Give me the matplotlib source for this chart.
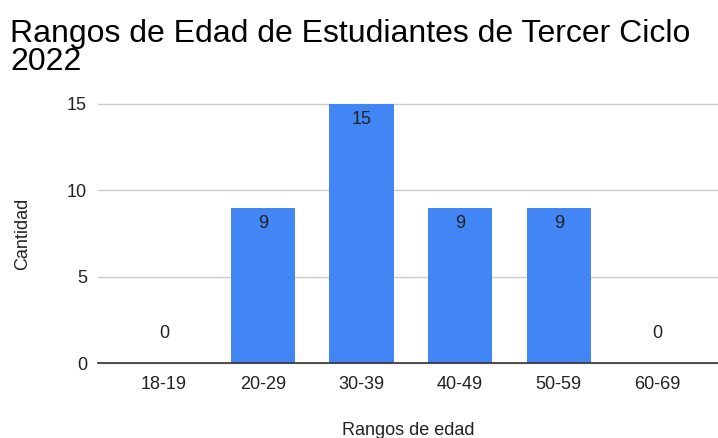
import matplotlib.pyplot as plt

# data
rangos = ["18-19", "20-29", "30-39", "40-49", "50-59", "60-69"]
cantidad = [0, 9, 15, 9, 9, 0]

plt.rcParams['font.family'] = ['Liberation Sans', 'DejaVu Sans']

fig = plt.figure(figsize=(7.18, 4.38), dpi=100)
ax = fig.add_axes([0.1365, 0.1712, 0.863, 0.5914])

x = range(len(rangos))
ax.bar(x, cantidad, width=0.65, color="#4285F4", zorder=3)

# value labels: inside the bar top, or just above the baseline for zeros
for i, v in zip(x, cantidad):
    if v > 0:
        ax.annotate(str(v), (i, v), xytext=(0, -16), textcoords="offset pixels",
                    ha="center", va="center", fontsize=13, color="#222222", zorder=4)
    else:
        ax.annotate(str(v), (i, v), xytext=(0, 30), textcoords="offset pixels",
                    ha="center", va="center", fontsize=13, color="#222222", zorder=4)

ax.set_xlim(-0.67, 5.61)
ax.set_ylim(0, 15)
ax.set_yticks([0, 5, 10, 15])
ax.set_xticks(list(x))
ax.set_xticklabels(rangos)
ax.tick_params(length=0, labelsize=13, labelcolor="#222222")
ax.tick_params(axis="x", pad=9)
ax.tick_params(axis="y", pad=8)

ax.grid(axis="y", color="#cccccc", linewidth=1, zorder=0, clip_on=False)
for s in ["top", "right", "left"]:
    ax.spines[s].set_visible(False)
ax.spines["bottom"].set_color("#333333")
ax.spines["bottom"].set_linewidth(1.2)
ax.spines["bottom"].set_zorder(5)

ax.set_xlabel("Rangos de edad", fontsize=13, color="#222222", labelpad=21)
ax.set_ylabel("Cantidad", fontsize=13, color="#222222", labelpad=26)

fig.text(10 / 718, 1 - 19 / 438, "Rangos de Edad de Estudiantes de Tercer Ciclo\n2022",
         ha="left", va="top", fontsize=23, color="#000000", linespacing=0.92)

fig.savefig("out.png", dpi=100)
